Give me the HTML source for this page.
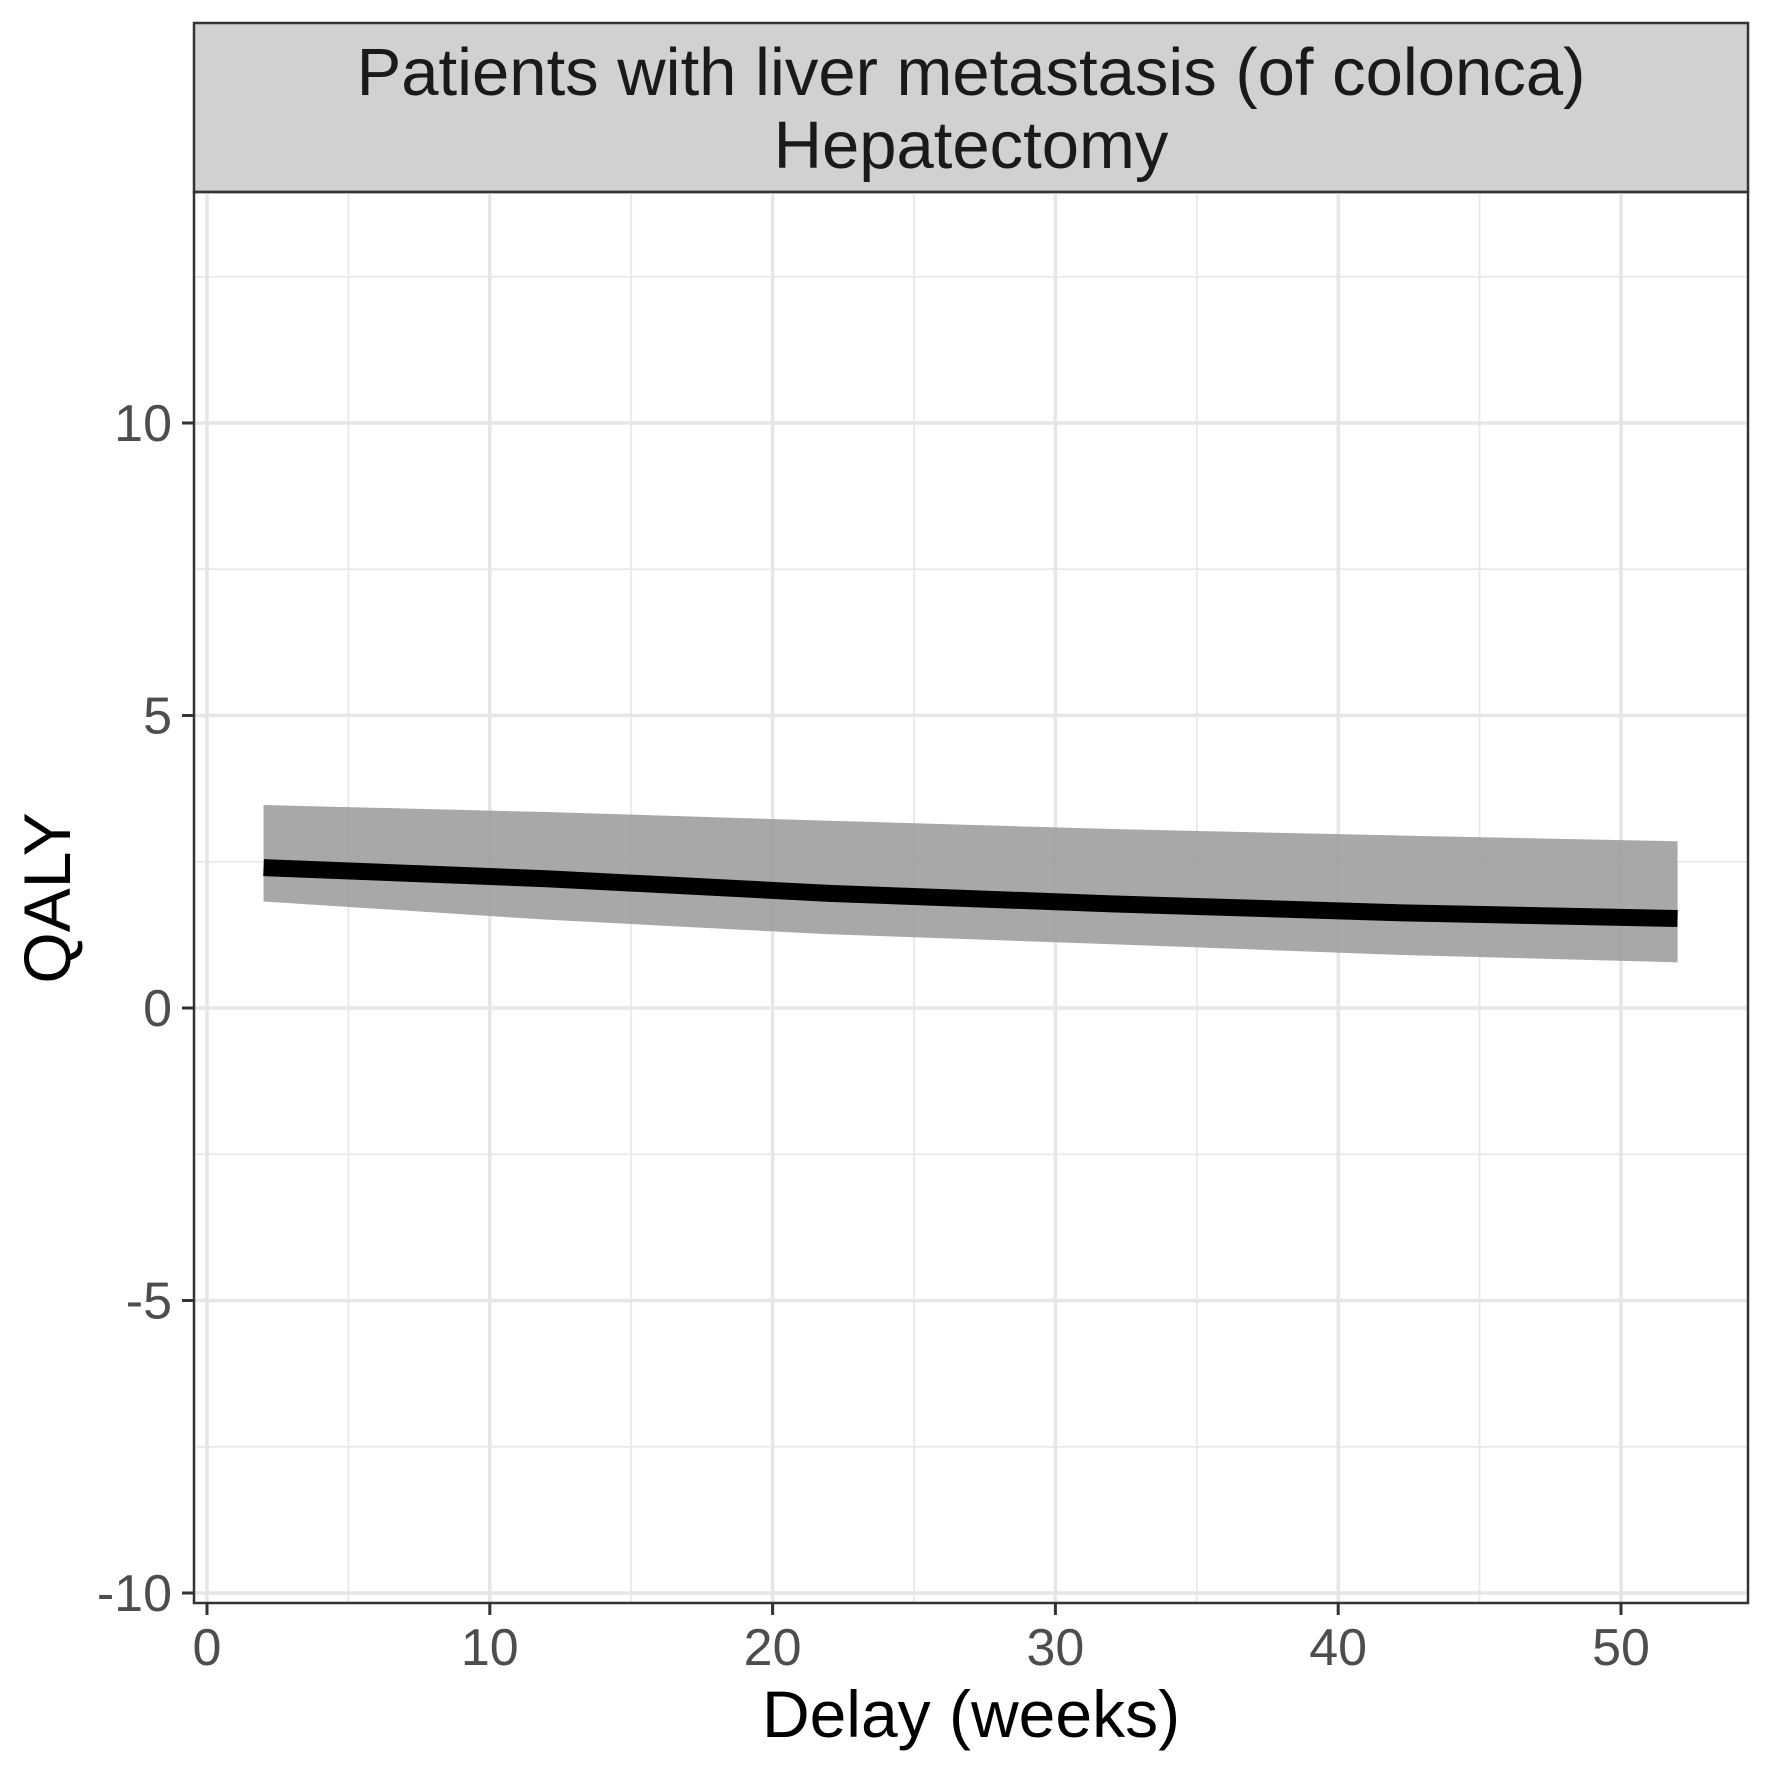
<!DOCTYPE html>
<html><head><meta charset="utf-8"><style>
html,body{margin:0;padding:0;background:#fff}
svg{display:block}
text{font-family:"Liberation Sans",Arial,sans-serif}
</style></head><body>
<svg id="chart" width="1771" height="1771" viewBox="0 0 1771 1771">
<rect x="194" y="23" width="1554" height="169" fill="#d1d1d1" stroke="#333" stroke-width="2.5"/>
<text x="971" y="95" font-size="67" text-anchor="middle" fill="#1a1a1a">Patients with liver metastasis (of colonca)</text>
<text x="971" y="168" font-size="67" text-anchor="middle" fill="#1a1a1a">Hepatectomy</text>
<g id="grid"></g>
<g id="marks"></g>
<rect x="194" y="192" width="1554" height="1411" fill="none" stroke="#333" stroke-width="2.5"/>
<g id="axes"></g>
<text x="971" y="1737" font-size="66" text-anchor="middle" fill="#000">Delay (weeks)</text>
<text transform="translate(70,898) rotate(-90)" font-size="66" text-anchor="middle" fill="#000">QALY</text>
</svg>
<script>
const delays = [2, 12, 22, 32, 42, 52];
const qaly = [2.40, 2.21, 1.96, 1.78, 1.63, 1.53];
const upper = [3.47, 3.35, 3.20, 3.06, 2.95, 2.85];
const lower = [1.82, 1.51, 1.26, 1.09, 0.91, 0.78];
const xTicks = [0, 10, 20, 30, 40, 50];
const xMinor = [5, 15, 25, 35, 45];
const yTicks = [-10, -5, 0, 5, 10];
const yMinor = [-7.5, -2.5, 2.5, 7.5, 12.5];

const NS = "http://www.w3.org/2000/svg";
function X(v){ return 207 + v * (1621 - 207) / 50; }
function Y(v){ return 1008 - v * (1008 - 423) / 10; }
function mk(tag, attrs, parent){
  const e = document.createElementNS(NS, tag);
  for (const k in attrs) e.setAttribute(k, attrs[k]);
  parent.appendChild(e);
  return e;
}
const grid = document.getElementById('grid');
const marks = document.getElementById('marks');
const axes = document.getElementById('axes');

yMinor.forEach(v => {
  const l = mk('line', {x1:194, x2:1748, y1:Y(v), y2:Y(v), stroke:'#e8e8e8', 'stroke-width':1.8}, grid);
  
  
});
xMinor.forEach(v => {
  const l = mk('line', {x1:X(v), x2:X(v), y1:192, y2:1603, stroke:'#e8e8e8', 'stroke-width':1.8}, grid);
  
  
});
yTicks.forEach(v => {
  const l = mk('line', {x1:194, x2:1748, y1:Y(v), y2:Y(v), stroke:'#e6e6e6', 'stroke-width':3.5}, grid);
  
  
  const t = mk('line', {x1:182, x2:194, y1:Y(v), y2:Y(v), stroke:'#333', 'stroke-width':3}, axes);
  
  
  const lab = mk('text', {x:172, y:Y(v)+18, 'font-size':52, 'text-anchor':'end', fill:'#4d4d4d'}, axes);
  lab.textContent = String(v);
  
  
});
xTicks.forEach(v => {
  const l = mk('line', {x1:X(v), x2:X(v), y1:192, y2:1603, stroke:'#e6e6e6', 'stroke-width':3.5}, grid);
  
  
  const t = mk('line', {x1:X(v), x2:X(v), y1:1603, y2:1615, stroke:'#333', 'stroke-width':3}, axes);
  
  
  const lab = mk('text', {x:X(v), y:1665, 'font-size':52, 'text-anchor':'middle', fill:'#4d4d4d'}, axes);
  lab.textContent = String(v);
  
  
});

let d = '';
delays.forEach((x, i) => { d += (i ? 'L' : 'M') + X(x) + ',' + Y(upper[i]); });
for (let i = delays.length - 1; i >= 0; i--) d += 'L' + X(delays[i]) + ',' + Y(lower[i]);
d += 'Z';
const rib = mk('path', {d:d, fill:'#999', 'fill-opacity':0.85}, marks);



const pts = delays.map((x, i) => X(x) + ',' + Y(qaly[i])).join(' ');
const line = mk('polyline', {points:pts, fill:'none', stroke:'#000', 'stroke-width':17}, marks);


</script>
</body></html>
